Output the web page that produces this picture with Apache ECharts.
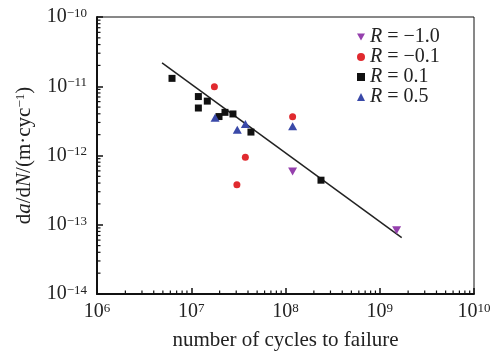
<!DOCTYPE html>
<html>
<head>
<meta charset="utf-8">
<script src="https://cdn.jsdelivr.net/npm/echarts@6/dist/echarts.min.js"></script>
<style>
  html, body { margin: 0; padding: 0; background: #fff; }
  #chart { width: 496px; height: 356px; }
</style>
</head>
<body>
<div id="chart"></div>
<script>
// [cycles to failure, da/dN]
const rMinus10 = [[1.19e8, 5.85e-13], [1.51e9, 8.3e-14]];
const rMinus01 = [[1.76e7, 9.8e-12], [1.19e8, 3.64e-12], [3.75e7, 9.46e-13], [3.05e7, 3.77e-13]];
const rPlus01 = [
  [6.25e6, 1.3e-11], [1.19e7, 7.1e-12], [1.19e7, 4.85e-12], [1.48e7, 6.1e-12],
  [1.97e7, 3.65e-12], [2.28e7, 4.2e-12], [2.77e7, 3.98e-12], [4.3e7, 2.18e-12],
  [2.38e8, 4.4e-13]
];
const rPlus05 = [[1.79e7, 3.52e-12], [3.08e7, 2.35e-12], [3.75e7, 2.84e-12], [1.19e8, 2.65e-12]];
const fitLine = [[4.9e6, 2.18e-11], [1.71e9, 6.5e-14]];

const legendNames = ['R = −1.0', 'R = −0.1', 'R = 0.1', 'R = 0.5'];
const xExps = [6, 7, 8, 9, 10];
const yExps = [-14, -13, -12, -11, -10];

const serif = 'Liberation Serif';
const lg = (pts) => pts.map((p) => [Math.log10(p[0]), Math.log10(p[1])]);

// minor ticks at 2..9 x 10^k, on the log10 scale
function minorTicks(exps) {
  const out = [];
  for (let i = 0; i < exps.length - 1; i++) {
    for (let k = 2; k <= 9; k++) out.push(exps[i] + Math.log10(k));
  }
  return out;
}

const supLabel = (v) => '{b|10}{s|' + String(Math.round(v)).replace('-', '−') + '}';
const labelRich = {
  b: { fontFamily: serif, fontSize: 20, color: '#222' },
  s: { fontFamily: serif, fontSize: 13, color: '#222', verticalAlign: 'top' },
};

const chart = echarts.init(document.getElementById('chart'));

const baseAxis = (exps) => ({
  type: 'value',
  min: exps[0],
  max: exps[exps.length - 1],
  interval: 1,
  splitLine: { show: false },
  axisLine: { show: true, lineStyle: { color: '#111', width: 2 } },
  axisTick: { show: true, inside: true, length: 6, lineStyle: { color: '#111', width: 1.5 } },
  axisLabel: { formatter: supLabel, rich: labelRich },
});

// short inward ticks drawn through the axes' own coord mapping
function tickSeries(values, dir) {
  return {
    type: 'custom',
    silent: true,
    clip: false,
    z: 3,
    data: values.map((v) => (dir === 'x' ? [v, yExps[0]] : [xExps[0], v])),
    renderItem: (params, api) => {
      const p = api.coord([api.value(0), api.value(1)]);
      const shape = dir === 'x'
        ? { x1: p[0], y1: p[1], x2: p[0], y2: p[1] - 3.5 }
        : { x1: p[0], y1: p[1], x2: p[0] + 3.5, y2: p[1] };
      return { type: 'line', shape: shape, style: { stroke: '#111', lineWidth: 1.2 } };
    },
  };
}

const dotStyle = (c) => ({ color: c, opacity: 1 });

chart.setOption({
  animation: false,
  grid: {
    left: 97, right: 22, top: 17, bottom: 59,
    show: true, borderColor: '#111', borderWidth: 1,
  },
  legend: {
    data: legendNames,
    orient: 'vertical',
    left: 352,
    top: 22,
    itemWidth: 8,
    itemHeight: 8,
    itemGap: 0,
    formatter: (n) => '{it|R}' + n.slice(1),
    textStyle: {
      fontFamily: serif, fontSize: 20, color: '#222', lineHeight: 19,
      rich: { it: { fontFamily: serif, fontSize: 20, fontStyle: 'italic', color: '#222' } },
    },
  },
  xAxis: Object.assign(baseAxis(xExps), {
    position: 'bottom',
    name: 'number of cycles to failure',
    nameLocation: 'middle',
    nameGap: 36,
    nameTextStyle: { fontFamily: serif, fontSize: 21, color: '#222' },
    axisLabel: { formatter: supLabel, rich: labelRich, margin: 8 },
  }),
  yAxis: Object.assign(baseAxis(yExps), {
    position: 'left',
    name: 'd{it|a}/d{it|N}/(m·cyc{s|−1})',
    nameLocation: 'middle',
    nameGap: 62,
    nameTextStyle: {
      fontFamily: serif, fontSize: 21, color: '#222',
      rich: {
        it: { fontFamily: serif, fontSize: 21, fontStyle: 'italic', color: '#222' },
        s: { fontFamily: serif, fontSize: 13, color: '#222', verticalAlign: 'top' },
      },
    },
    axisLabel: { formatter: supLabel, rich: labelRich, margin: 10 },
  }),
  series: [
    tickSeries(minorTicks(xExps), 'x'),
    tickSeries(minorTicks(yExps), 'y'),
    {
      name: 'fit', type: 'line', data: lg(fitLine), symbol: 'none',
      lineStyle: { color: '#222', width: 1.5 }, z: 1, silent: true,
    },
    {
      name: legendNames[0], type: 'scatter', data: lg(rMinus10),
      symbol: 'path://M0,0L10,0L5,8.66Z', symbolSize: [9, 8],
      itemStyle: dotStyle('#9540ad'),
    },
    {
      name: legendNames[1], type: 'scatter', data: lg(rMinus01),
      symbol: 'circle', symbolSize: 7, itemStyle: dotStyle('#e02a2f'),
    },
    {
      name: legendNames[2], type: 'scatter', data: lg(rPlus01),
      symbol: 'rect', symbolSize: 7, itemStyle: dotStyle('#111'),
    },
    {
      name: legendNames[3], type: 'scatter', data: lg(rPlus05),
      symbol: 'triangle', symbolSize: [9, 8], itemStyle: dotStyle('#3a49a8'),
    },
  ],
});
</script>
</body>
</html>
